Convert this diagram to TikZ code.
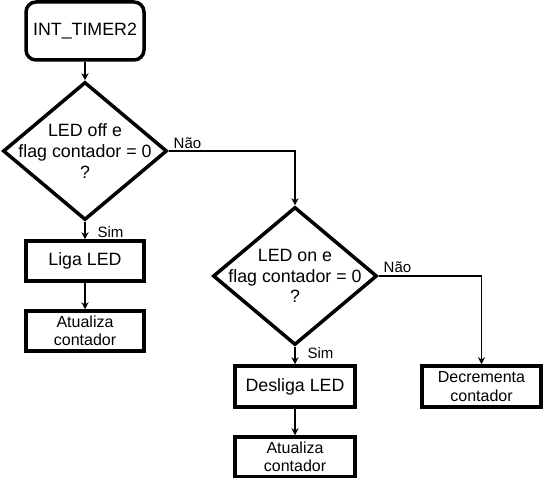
\documentclass[tikz,border=0pt]{standalone}
\usepackage{fontspec}
\setmainfont{Liberation Sans}
\usetikzlibrary{shapes.geometric,arrows.meta}
\begin{document}
\begin{tikzpicture}[x=1pt,y=-1pt,
  box/.style={draw=black,line width=3.5pt,inner sep=0pt,align=center,
    font=\fontsize{17.8}{20.7}\selectfont},
  smallbox/.style={box,font=\fontsize{16}{18.5}\selectfont},
  dbox/.style={draw=black,line width=3.5pt,diamond,inner sep=0pt,
    minimum width=164pt,minimum height=138pt},
  dtext/.style={align=center,inner sep=0pt,font=\fontsize{17.8}{20.7}\selectfont},
  conn/.style={draw=black,line width=1.3pt,-{Stealth[length=7pt,width=7pt]}},
  lbl/.style={inner sep=0pt,font=\fontsize{15}{18}\selectfont}]
\useasboundingbox (0,0) rectangle (543,478);
\node[box,rounded corners=10pt,minimum width=118pt,minimum height=58pt] (start) at (85,31) {INT\_TIMER2};
\node[dbox] (d1) at (85,151) {};
\node[dtext] (d1t) at (d1.center) {LED off e\\flag contador = 0\\?};
\node[box,minimum width=118pt,minimum height=40pt] (liga) at (85,261) {Liga LED};
\node[smallbox,minimum width=118pt,minimum height=40pt] (at1) at (85,331) {Atualiza\\contador};
\node[dbox] (d2) at (295,276) {};
\node[dtext] (d2t) at (d2.center) {LED on e\\flag contador = 0\\?};
\node[box,minimum width=120pt,minimum height=41pt] (desl) at (295,386.5) {Desliga LED};
\node[smallbox,minimum width=120pt,minimum height=40pt] (at2) at (295,457) {Atualiza\\contador};
\node[smallbox,minimum width=119pt,minimum height=41pt] (dec) at (481.5,386.5) {Decrementa\\contador};
\draw[conn] (start.south) -- (d1.north);
\draw[conn] (d1.east) -| (d2.north);
\draw[conn] (d1.south) -- (liga.north);
\draw[conn] (liga.south) -- (at1.north);
\draw[conn] (d2.east) -| (dec.north);
\draw[conn] (d2.south) -- (desl.north);
\draw[conn] (desl.south) -- (at2.north);
\node[lbl] (n1) at (187.5,143) {Não};
\node[lbl] (s1) at (110.5,232) {Sim};
\node[lbl] (n2) at (397.5,267) {Não};
\node[lbl] (s2) at (320.5,353) {Sim};
\end{tikzpicture}
\end{document}
